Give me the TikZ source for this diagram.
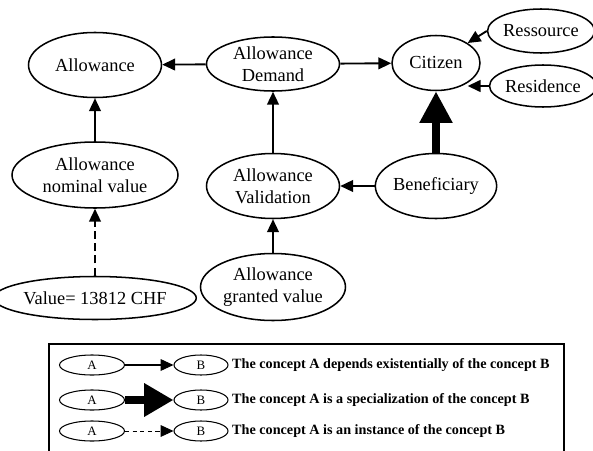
\documentclass[tikz,border=0pt]{standalone}
\usepackage{fontspec}
\setmainfont{Liberation Serif}
\usetikzlibrary{shapes.geometric,arrows.meta}

\begin{document}
\begin{tikzpicture}[x=0.03cm,y=-0.03cm]
\tikzset{concept/.style = {shape=ellipse,draw,line width=1.3pt,inner sep=0pt,align=center,font=\fontsize{15.7}{18.8}\selectfont}}
\tikzset{small/.style = {shape=ellipse,draw,line width=0.9pt,inner sep=0pt,minimum width=1.95cm,minimum height=0.6cm,font=\fontsize{11}{12}\selectfont}}
\tikzset{depends/.style = {-{Triangle[length=11pt,width=10pt]},line width=1.6pt}}
\tikzset{special/.style = {-{Triangle[length=27pt,width=26.5pt]},line width=6.8pt}}
\tikzset{instance/.style = {depends,dash pattern=on 7pt off 3.5pt}}
\useasboundingbox (0,0) rectangle (593,450);
% vertices
\node[concept,minimum width=3.99cm,minimum height=1.95cm] (allow) at (95,65) {Allowance};
\node[concept,minimum width=3.99cm,minimum height=1.62cm] (demand) at (273,64) {Allowance\\Demand};
\node[concept,minimum width=2.64cm,minimum height=1.65cm] (citizen) at (436,63) {Citizen};
\node[concept,minimum width=2.94cm,minimum height=1.32cm] (ressource) at (541,31) {Ressource};
\node[concept,minimum width=2.7cm,minimum height=1.26cm] (residence) at (543,86) {Residence};
\node[concept,minimum width=4.98cm,minimum height=1.98cm] (nominal) at (95,175) {Allowance\\nominal value};
\node[concept,minimum width=3.99cm,minimum height=1.95cm] (valid) at (273,186) {Allowance\\Validation};
\node[concept,minimum width=3.3cm,minimum height=1.95cm] (benef) at (436,186) {Beneficiary};
\node[concept,minimum width=4.86cm,minimum height=1.29cm] (value) at (95,298) {Value= 13812 CHF};
\node[concept,minimum width=4.35cm,minimum height=2.01cm] (granted) at (273,287) {Allowance\\granted value};
%edges
\draw[depends] (demand) to (allow);
\draw[depends] (demand) to (citizen);
\draw[depends] (ressource.west) to (citizen.north east);
\draw[depends] (residence.west) to (residence.west -| citizen.south east);
\draw[depends] (nominal) to (allow);
\draw[instance] (value) to (nominal);
\draw[depends] (valid) to (demand);
\draw[depends] (granted) to (valid);
\draw[depends] (benef) to (valid);
\draw[special] (benef) to (citizen);
% legend
\draw[line width=1.2pt] (49,344) rectangle (564,456);
\node[small] (a1) at (92,365) {A};
\node[small] (a2) at (92,400) {A};
\node[small] (a3) at (92,431) {A};
\node[small,minimum width=1.62cm] (b1) at (201,365) {B};
\node[small,minimum width=1.62cm] (b2) at (201,400) {B};
\node[small,minimum width=1.62cm] (b3) at (201,431) {B};
\draw[depends,line width=0.9pt] (a1) to (b1);
\draw[-{Triangle[length=25pt,width=27pt]},line width=6.8pt] (a2) to (b2);
\draw[depends,line width=0.8pt,dash pattern=on 3.5pt off 3pt] (a3) to (b3);
\tikzset{legtext/.style = {anchor=west,inner sep=0pt,font=\bfseries\fontsize{12.1}{14}\selectfont}}
\node[legtext] (t1) at (232,365) {The concept A depends existentially of the concept B};
\node[legtext] (t2) at (232,400) {The concept A is a specialization of the concept B};
\node[legtext] (t3) at (232,431) {The concept A is an instance of the concept B};
\end{tikzpicture}
\end{document}
